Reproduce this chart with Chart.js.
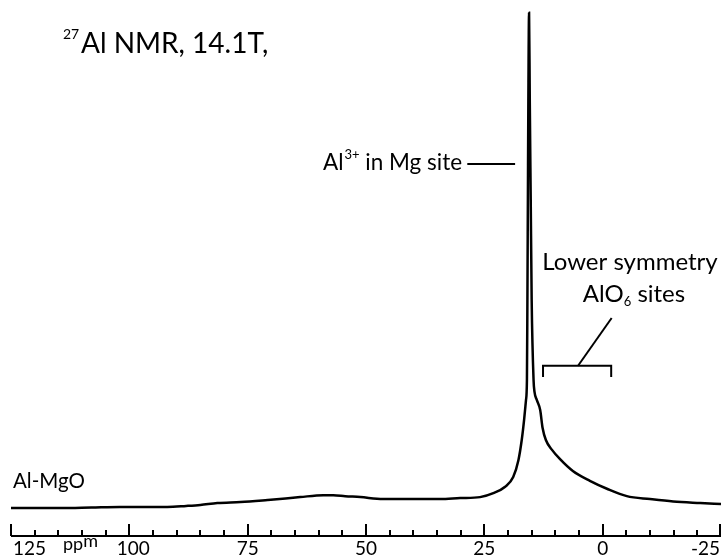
<!DOCTYPE html>
<html>
<head>
<meta charset="utf-8">
<script src="https://cdn.jsdelivr.net/npm/chart.js@4.4.1/dist/chart.umd.min.js"></script>
<style>
  html, body { margin: 0; padding: 0; background: #fff; }
  canvas { display: block; }
</style>
</head>
<body>
<canvas id="nmr" width="722" height="559"></canvas>
<script>
'use strict';

// Spectrum: chemical shift (ppm) and relative intensity.
const PPM = [125, 120, 114.5, 108, 102, 95.5, 92, 88, 85, 81.4,
  76.5, 70.8, 67, 63.9, 59, 56.9, 54.4, 51.2, 46.4, 40.7,
  34.3, 30.1, 25.9, 23.1, 20.6, 18.9, 17.8, 17.1, 16.6, 16.2,
  16.0, 15.9, 15.8, 15.7, 15.55, 15.4, 15.2, 15.0, 14.6, 14.4,
  13.9, 13.2, 12.7, 12.0, 10.7, 9.0, 6.3, 2.7, -0.9, -5.1,
  -10.0, -14.9, -20.6, -25];
const INTENSITY = [-0.6, -0.6, -0.6, -0.5, -0.4, -0.4, -0.4, -0.2, 0, 0.4,
  0.6, 1.0, 1.3, 1.6, 2.0, 2.0, 1.8, 1.6, 1.2, 1.2,
  1.2, 1.4, 1.6, 2.4, 3.7, 5.7, 9.1, 13.2, 17.3, 21.3,
  25.4, 41.7, 62.0, 82.3, 100, 82.3, 62.0, 41.7, 25.4, 23.0,
  21.3, 19.3, 15.7, 13.2, 11.2, 9.3, 6.9, 4.9, 3.3, 1.8,
  1.2, 0.7, 0.4, 0.2];

const MAJOR_TICKS = [125, 100, 75, 50, 25, 0, -25];
const TICK_LABELS = ['125', '100', '75', '50', '25', '0', '-25'];
const MINOR_STEP = 5;

const FONT = 'Lato, "Open Sans", sans-serif';

// Axis, tick marks and text labels, all placed through the chart scales.
const decorations = {
  id: 'decorations',
  afterDraw(chart) {
    const ctx = chart.ctx;
    const x = chart.scales.x;
    const y = chart.scales.y;
    const area = chart.chartArea;
    const base = area.bottom;

    ctx.save();
    ctx.strokeStyle = '#000';
    ctx.fillStyle = '#000';
    ctx.lineWidth = 2;
    ctx.lineCap = 'butt';

    // Axis line
    ctx.beginPath();
    ctx.moveTo(area.left, base);
    ctx.lineTo(area.right, base);
    ctx.stroke();

    // Minor and major ticks
    for (let v = -25; v <= 125; v += MINOR_STEP) {
      const px = Math.min(Math.round(x.getPixelForValue(v)), area.right - 1);
      const major = v % 25 === 0;
      ctx.beginPath();
      ctx.moveTo(px, base);
      ctx.lineTo(px, base - (major ? 12 : 6));
      ctx.stroke();
    }

    // Tick labels
    ctx.font = '19px ' + FONT;
    ctx.textBaseline = 'alphabetic';
    MAJOR_TICKS.forEach((v, i) => {
      const px = x.getPixelForValue(v);
      if (i === 0) {
        ctx.textAlign = 'left';
        ctx.fillText(TICK_LABELS[i], px + 2, base + 19);
      } else if (i === MAJOR_TICKS.length - 1) {
        ctx.textAlign = 'right';
        ctx.fillText(TICK_LABELS[i], px - 1, base + 19);
      } else {
        ctx.textAlign = 'center';
        ctx.fillText(TICK_LABELS[i], px + (TICK_LABELS[i][0] === '1' ? 4 : 0), base + 19);
      }
    });

    // Unit label with raised "m"
    ctx.textAlign = 'left';
    ctx.font = '18px ' + FONT;
    ctx.fillText('pp', 63, base + 14);
    const ppW = ctx.measureText('pp').width;
    ctx.fillText('m', 63 + ppW, base + 11);

    // Title
    ctx.font = '14px ' + FONT;
    ctx.fillText('27', 63, 39);
    ctx.font = '28px ' + FONT;
    ctx.fillText('Al NMR, 14.1T,', 81, 53);

    // Sample label
    ctx.font = '20.5px ' + FONT;
    ctx.fillText('Al-MgO', 13, 488);

    // Main peak label and pointer
    ctx.font = '22.5px ' + FONT;
    ctx.fillText('Al', 323, 170);
    let cx = 323 + ctx.measureText('Al').width + 1;
    ctx.font = '13px ' + FONT;
    ctx.fillText('3+', cx, 159);
    cx += ctx.measureText('3+').width;
    ctx.font = '22.5px ' + FONT;
    ctx.fillText(' in Mg site', cx, 170);

    ctx.beginPath();
    ctx.moveTo(x.getPixelForValue(28.6), y.getPixelForValue(69.3));
    ctx.lineTo(x.getPixelForValue(18.5), y.getPixelForValue(69.3));
    ctx.stroke();

    // Shoulder label
    ctx.font = '24px ' + FONT;
    ctx.textAlign = 'center';
    ctx.fillText('Lower symmetry', 630, 270);
    ctx.textAlign = 'left';
    const w1 = ctx.measureText('AlO').width;
    const w3 = ctx.measureText(' sites').width;
    ctx.font = '13px ' + FONT;
    const w2 = ctx.measureText('6').width;
    let sx = 634 - (w1 + w2 + w3) / 2;
    ctx.font = '24px ' + FONT;
    ctx.fillText('AlO', sx, 302);
    sx += w1;
    ctx.font = '13px ' + FONT;
    ctx.fillText('6', sx, 306);
    sx += w2;
    ctx.font = '24px ' + FONT;
    ctx.fillText(' sites', sx, 302);

    // Bracket under the shoulder
    const bl = x.getPixelForValue(12.6);
    const br = x.getPixelForValue(-1.8);
    const bt = y.getPixelForValue(28.3);
    const bb = y.getPixelForValue(26.0);
    ctx.beginPath();
    ctx.moveTo(bl, bb);
    ctx.lineTo(bl, bt);
    ctx.lineTo(br, bt);
    ctx.lineTo(br, bb);
    ctx.stroke();
    ctx.beginPath();
    ctx.moveTo(x.getPixelForValue(5.2), bt);
    ctx.lineTo(x.getPixelForValue(-1.9), y.getPixelForValue(38.0));
    ctx.stroke();

    ctx.restore();
  }
};

const spectrum = PPM.map((p, i) => ({x: p, y: INTENSITY[i]}));

new Chart(document.getElementById('nmr'), {
  type: 'line',
  data: {
    datasets: [{
      label: 'Al-MgO',
      data: spectrum,
      borderColor: '#000',
      borderWidth: 2.5,
      pointRadius: 0,
      fill: false,
      cubicInterpolationMode: 'monotone'
    }]
  },
  options: {
    responsive: false,
    animation: false,
    layout: {
      padding: {left: 11, right: 1, top: 0, bottom: 23}
    },
    scales: {
      x: {
        type: 'linear',
        reverse: true,
        min: -25,
        max: 125,
        display: false
      },
      y: {
        min: -6.3,
        max: 102.6,
        display: false
      }
    },
    plugins: {
      legend: {display: false},
      tooltip: {enabled: false}
    }
  },
  plugins: [decorations]
});
</script>
</body>
</html>
